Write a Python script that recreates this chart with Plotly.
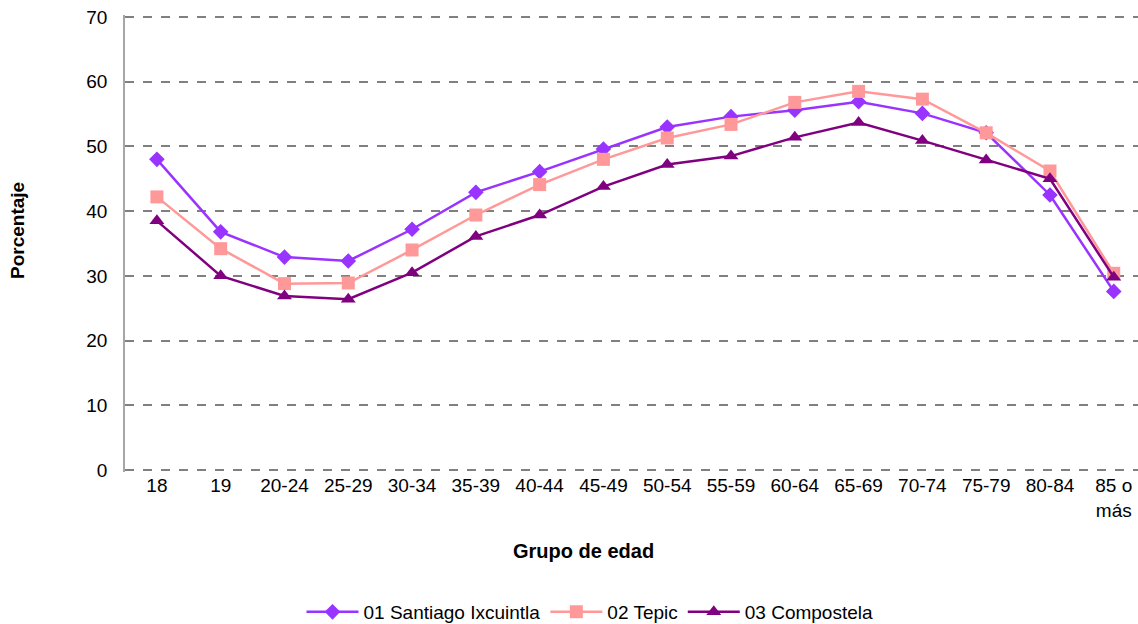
import plotly.graph_objects as go

categorias = ["18", "19", "20-24", "25-29", "30-34", "35-39", "40-44", "45-49",
              "50-54", "55-59", "60-64", "65-69", "70-74", "75-79", "80-84", "85 o<br>más"]

santiago = [48.0, 36.8, 32.9, 32.3, 37.2, 42.9, 46.1, 49.6, 53.0, 54.6, 55.6, 56.9, 55.1, 52.1, 42.5, 27.6]
tepic = [42.2, 34.2, 28.8, 28.9, 34.0, 39.4, 44.1, 48.0, 51.3, 53.4, 56.8, 58.5, 57.3, 52.1, 46.2, 30.4]
compostela = [38.5, 30.0, 26.9, 26.4, 30.5, 36.1, 39.4, 43.8, 47.2, 48.5, 51.4, 53.7, 50.9, 47.9, 45.0, 29.8]

series = [
    ("01 Santiago Ixcuintla", santiago, "#9933FF", "diamond", 12),
    ("02 Tepic", tepic, "#FF9999", "square", 13),
    ("03 Compostela", compostela, "#800080", "triangle-up", 13),
]

FONT = "Liberation Sans, Arial, sans-serif"
L, R, T, B = 125, 1138, 15, 472
PW, PH = R - L, B - T

fig = go.Figure()
for name, vals, color, sym, size in series:
    fig.add_trace(go.Scatter(
        x=categorias, y=vals, name=name, mode="lines+markers",
        line=dict(color=color, width=2.5),
        marker=dict(symbol=sym, size=size, color=color),
    ))

fig.update_layout(
    width=1138, height=624,
    margin=dict(l=L, r=1138 - R, t=T, b=624 - B, autoexpand=False),
    plot_bgcolor="white", paper_bgcolor="white",
    font=dict(family=FONT, size=19, color="black"),
    showlegend=True,
    legend=dict(orientation="h", x=(590 - L) / PW, xanchor="center",
                y=(B - 612) / PH, yanchor="middle",
                font=dict(size=19), itemwidth=52, tracegroupgap=0),
    xaxis=dict(
        type="category", range=[-0.5, 15.38], automargin=False,
        showgrid=False, showline=False, zeroline=False,
        ticks="", tickfont=dict(size=19),
    ),
    yaxis=dict(
        range=[-0.3, 70.3], dtick=10, tick0=0, automargin=False,
        showgrid=True, gridcolor="#808080", griddash="dash", gridwidth=1.5,
        zeroline=False, showline=True, linecolor="#A6A6A6", linewidth=1.5,
        ticks="", tickfont=dict(size=19), ticklabelstandoff=12,
    ),
    annotations=[
        dict(text="<b>Porcentaje</b>", x=(17 - L) / PW, y=(B - 231) / PH,
             xref="paper", yref="paper", xanchor="center", yanchor="middle",
             showarrow=False, textangle=-90, font=dict(size=19)),
        dict(text="<b>Grupo de edad</b>", x=(583 - L) / PW, y=(B - 551) / PH,
             xref="paper", yref="paper", xanchor="center", yanchor="middle",
             showarrow=False, font=dict(size=20)),
    ],
)

fig.write_html("out.html", config={"displayModeBar": False},
               post_script="document.body.style.margin='0';document.body.style.overflow='hidden';")
